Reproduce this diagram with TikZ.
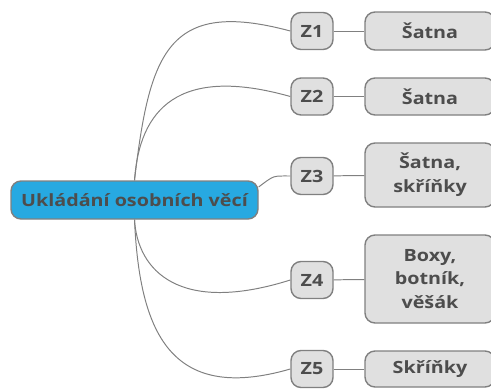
\documentclass[tikz,border=0pt]{standalone}
\usepackage{fontspec}
\setmainfont{Open Sans}[FakeStretch=1.17]
\usepackage{xcolor}
\usepackage{tikz}
\usetikzlibrary{positioning}
\definecolor{mainblue}{HTML}{27A9E1}
\definecolor{boxgray}{HTML}{E0E0E0}
\definecolor{linegray}{HTML}{808080}
\definecolor{textgray}{HTML}{4D4D4D}

\begin{document}
\begin{tikzpicture}[
    font=\fontsize{12}{17}\selectfont\bfseries,
    every node/.style={text=textgray, align=center, inner sep=0pt},
    maintopic/.style={draw=linegray, line width=1pt, fill=mainblue, rounded corners=0.25cm,
        minimum width=6.175cm, minimum height=0.95cm},
    zone/.style={draw=linegray, line width=1pt, fill=boxgray, rounded corners=0.25cm,
        minimum width=1.05cm, minimum height=0.925cm},
    place/.style={draw=linegray, line width=1pt, fill=boxgray, rounded corners=0.25cm,
        minimum width=3.25cm},
    branch/.style={draw=linegray, line width=0.7pt}]

    \useasboundingbox (0,0) rectangle (12.275,-9.7);

    % Main topic (left)
    \node[maintopic] (main) at (3.3625,-5) {Ukládání osobních věcí};

    % Zones
    \node[zone] (z1) at (7.8,-0.775) {Z1};
    \node[zone] (z2) at (7.8,-2.4125) {Z2};
    \node[zone] (z3) at (7.8,-4.4) {Z3};
    \node[zone] (z4) at (7.8,-7.0) {Z4};
    \node[zone] (z5) at (7.8,-9.225) {Z5};

    % Places (right) - cut off by the right edge
    \node[place, minimum height=0.95cm] (p1) at (10.75,-0.775) {Šatna};
    \node[place, minimum height=0.925cm] (p2) at (10.75,-2.4125) {Šatna};
    \node[place, minimum height=1.6cm] (p3) at (10.75,-4.375) {Šatna,\\skříňky};
    \node[place, minimum height=2.2cm] (p4) at (10.75,-6.975) {Boxy,\\botník,\\věšák};
    \node[place, minimum height=0.9cm] (p5) at (10.75,-9.225) {Skříňky};

    \draw[branch] (main.north) .. controls +(0.375,3.175) and +(-3.075,0.825) .. (z1.west);
    \draw[branch] (main.north) .. controls +(0.125,1.775) and +(-2.8,0.79) .. (z2.west);
    \draw[branch] (main.6) .. controls +(0.4,0.3) and +(-0.45,0) .. (z3.west);
    \draw[branch] (main.south) .. controls +(0.075,-1.275) and +(-2.775,-0.875) .. (z4.west);
    \draw[branch] (main.south) .. controls +(0.125,-2.775) and +(-3.025,-0.875) .. (z5.west);

    \draw[branch] (z1) -- (p1);
    \draw[branch] (z2) -- (p2);
    \draw[branch] (z3) -- (p3);
    \draw[branch] (z4) -- (p4);
    \draw[branch] (z5) -- (p5);

\end{tikzpicture}
\end{document}
